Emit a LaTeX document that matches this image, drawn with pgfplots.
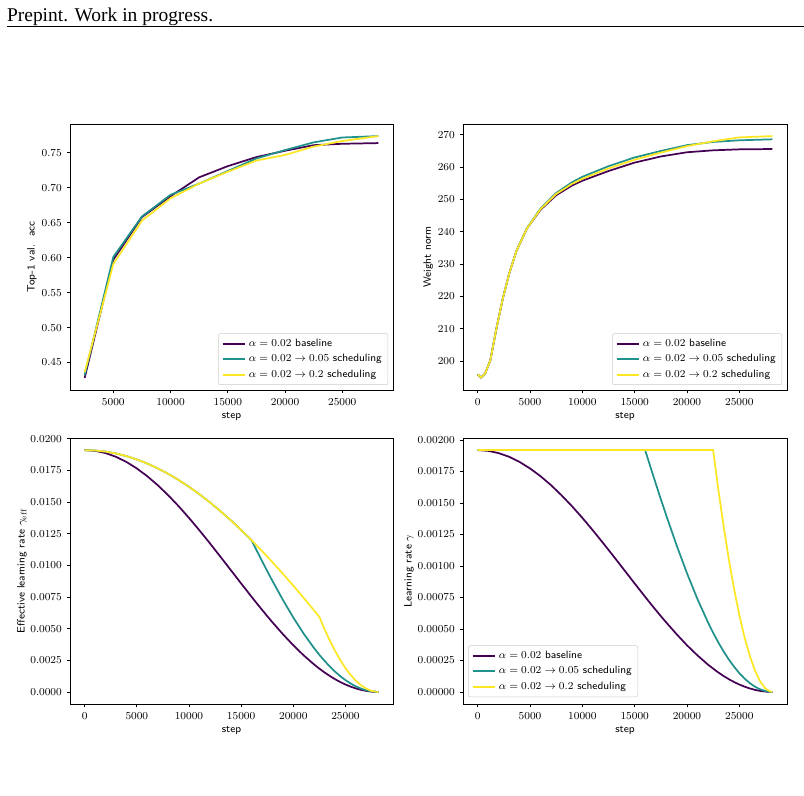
\documentclass[border=0pt]{standalone}
\usepackage{pgfplots}
\pgfplotsset{compat=1.18}
\usepackage{pgfplotstable}
\usepackage{fontspec}
\newfontfamily\headfont{Liberation Serif}
\definecolor{vpurple}{HTML}{440154}
\definecolor{vteal}{HTML}{21918C}
\definecolor{vyellow}{HTML}{FDE725}

\pgfplotstableread{
step P T Y
2500 0.428 0.432 0.436
5000 0.597 0.601 0.591
7500 0.658 0.659 0.653
10000 0.688 0.690 0.685
12500 0.715 0.706 0.706
15000 0.731 0.724 0.723
17500 0.744 0.742 0.739
20000 0.753 0.754 0.747
22500 0.761 0.765 0.759
25000 0.763 0.772 0.767
28150 0.764 0.774 0.774
}\acctable

\pgfplotstableread{
step P T Y
0 195.9 195.9 195.9
300 194.9 194.9 194.9
700 196.1 196.1 196.1
1200 200.2 200.2 200.2
1800 210.3 210.3 210.3
2400 219.4 219.4 219.4
3000 227.0 227.0 227.0
3700 234.1 234.1 234.1
4700 241.0 241.1 241.0
6000 246.8 247.2 247.0
7500 251.3 252.0 251.7
9000 254.3 255.3 254.8
10000 255.8 257.0 256.4
12500 258.8 260.3 259.6
15000 261.4 263.0 262.3
17500 263.3 265.0 264.5
20000 264.6 266.8 266.5
22500 265.2 267.8 268.0
25000 265.5 268.3 269.2
28150 265.6 268.6 269.6
}\normtable

\pgfplotstableread{
step P T Y
0 0.019100 0.019100 0.019100
1000 0.019041 0.019070 0.019070
2000 0.018863 0.018981 0.018981
3000 0.018570 0.018833 0.018833
4000 0.018164 0.018626 0.018626
5000 0.017651 0.018361 0.018361
6000 0.017038 0.018039 0.018039
7000 0.016331 0.017661 0.017661
8000 0.015540 0.017228 0.017228
9000 0.014674 0.016742 0.016742
10000 0.013745 0.016203 0.016203
11000 0.012763 0.015614 0.015614
12000 0.011742 0.014976 0.014976
13000 0.010693 0.014291 0.014291
14000 0.009630 0.013562 0.013562
15000 0.008566 0.012791 0.012791
16000 0.007514 0.011980 0.011980
16500 0.006997 0.011155 0.011560
17000 0.006488 0.010343 0.011131
17500 0.005988 0.009546 0.010694
18000 0.005499 0.008767 0.010249
19000 0.004561 0.007272 0.009334
20000 0.003685 0.005876 0.008390
21000 0.002882 0.004595 0.007420
22000 0.002163 0.003448 0.006427
22500 0.001836 0.002928 0.005922
23000 0.001534 0.002446 0.004948
23500 0.001257 0.002004 0.004055
24000 0.001006 0.001604 0.003244
24500 0.000781 0.001246 0.002520
25000 0.000584 0.000931 0.001884
25500 0.000415 0.000661 0.001337
26000 0.000274 0.000436 0.000882
26500 0.000161 0.000257 0.000521
27000 0.0000785 0.000125 0.000253
27500 0.0000251 0.0000400 0.0000809
28000 0.0000013 0.0000021 0.0000043
28150 0 0 0
}\efftable

\pgfplotstableread{
step P T Y
0 0.001920 0.00192 0.00192
1000 0.001914 0.00192 0.00192
2000 0.001896 0.00192 0.00192
3000 0.001867 0.00192 0.00192
4000 0.001826 0.00192 0.00192
5000 0.001774 0.00192 0.00192
6000 0.001713 0.00192 0.00192
7000 0.001642 0.00192 0.00192
8000 0.001562 0.00192 0.00192
9000 0.001475 0.00192 0.00192
10000 0.001382 0.00192 0.00192
11000 0.001283 0.00192 0.00192
12000 0.001180 0.00192 0.00192
13000 0.001075 0.00192 0.00192
14000 0.000968 0.00192 0.00192
15000 0.000861 0.00192 0.00192
16000 0.000755 0.00192 0.00192
16500 0.000703 0.001788 0.00192
17000 0.000652 0.001658 0.00192
17500 0.000602 0.001530 0.00192
18000 0.000553 0.001405 0.00192
19000 0.000459 0.001166 0.00192
20000 0.000370 0.000942 0.00192
21000 0.000290 0.000737 0.00192
22000 0.000217 0.000553 0.00192
22500 0.000185 0.000469 0.00192
23000 0.000154 0.000392 0.001604
23500 0.000126 0.000321 0.001315
24000 0.000101 0.000257 0.001052
24500 0.0000785 0.000200 0.000817
25000 0.0000587 0.000149 0.000611
25500 0.0000417 0.000106 0.000433
26000 0.0000275 0.0000699 0.000286
26500 0.0000162 0.0000413 0.000169
27000 0.0000079 0.0000201 0.0000821
27500 0.0000025 0.0000064 0.0000262
28000 0.0000001 0.0000003 0.0000014
28150 0 0 0
}\lrtable

\pgfplotsset{
  myax/.style={
    scale only axis,
    height=199.5pt,
    axis line style={line width=0.6pt},
    tick align=outside,
    tick pos=left,
    major tick length=2.6pt,
    every tick/.style={black, line width=0.6pt},
    tick label style={font=\fontsize{8.4}{10}\selectfont},
    label style={font=\sffamily\fontsize{8}{9.6}\selectfont},
    scaled ticks=false,
    /pgf/number format/1000 sep={},
    xtick={0,5000,10000,15000,20000,25000},
    legend style={font=\fontsize{8}{9.6}\selectfont, draw=black!20, rounded corners=1.5pt,
      fill=white, inner xsep=2.5pt, inner ysep=2pt,
      row sep=0.6pt, cells={anchor=west}},
    legend image code/.code={\draw[##1, line width=1.4pt] (0pt,0pt) -- (17pt,0pt);},
    every axis plot/.append style={line width=1.3pt},
    xlabel={step},
    xlabel style={at={(axis description cs:0.5,-0.098)}, anchor=center},
  },
}

\begin{document}
\begin{tikzpicture}
\path[use as bounding box] (0pt,0pt) rectangle (603pt,-597pt);
\node[anchor=base west, inner sep=0pt, font=\headfont\fontsize{14.6}{17}\selectfont] at (5.1pt,-16.1pt) {Prepint. Work in progress.};
\draw[line width=0.6pt] (5.1pt,-20.1pt) -- (603pt,-20.1pt);

% Top-left
\begin{axis}[myax, at={(52.5pt,-292.5pt)}, anchor=south west, width=242.25pt,
  xmin=1217.5, xmax=29432.5, ymin=0.4107, ymax=0.7913,
  ytick={0.45,0.50,0.55,0.60,0.65,0.70,0.75},
  yticklabel style={/pgf/number format/fixed, /pgf/number format/fixed zerofill, /pgf/number format/precision=2},
  ylabel={Top-1 val.\ \ acc},
  ylabel style={at={(axis description cs:-0.118,0.5)}, anchor=center},
  legend style={at={(0.985,0.019)}, anchor=south east}]
\addplot[vpurple] table[x=step,y=P]{\acctable};
\addplot[vteal] table[x=step,y=T]{\acctable};
\addplot[vyellow] table[x=step,y=Y]{\acctable};
\legend{$\alpha=0.02$ \textsf{baseline}, $\alpha=0.02\rightarrow0.05$ \textsf{scheduling}, $\alpha=0.02\rightarrow0.2$ \textsf{scheduling}}
\end{axis}

% Top-right
\begin{axis}[myax, at={(347.25pt,-292.5pt)}, anchor=south west, width=243pt,
  xmin=-1407.5, xmax=29557.5, ymin=191.06, ymax=273.34,
  ytick={200,210,220,230,240,250,260,270},
  ylabel={Weight norm},
  ylabel style={at={(axis description cs:-0.107,0.5)}, anchor=center},
  legend style={at={(0.985,0.019)}, anchor=south east}]
\addplot[vpurple] table[x=step,y=P]{\normtable};
\addplot[vteal] table[x=step,y=T]{\normtable};
\addplot[vyellow] table[x=step,y=Y]{\normtable};
\legend{$\alpha=0.02$ \textsf{baseline}, $\alpha=0.02\rightarrow0.05$ \textsf{scheduling}, $\alpha=0.02\rightarrow0.2$ \textsf{scheduling}}
\end{axis}

% Bottom-left
\begin{axis}[myax, at={(52.5pt,-528pt)}, anchor=south west, width=242.25pt,
  xmin=-1407.5, xmax=29557.5, ymin=-0.000955, ymax=0.020055,
  ytick={0,0.0025,0.005,0.0075,0.01,0.0125,0.015,0.0175,0.02},
  yticklabel style={/pgf/number format/fixed, /pgf/number format/fixed zerofill, /pgf/number format/precision=4},
  ylabel={Effective learning rate $\gamma_{\mathrm{eff}}$},
  ylabel style={at={(axis description cs:-0.149,0.5)}, anchor=center}]
\addplot[vpurple] table[x=step,y=P]{\efftable};
\addplot[vteal] table[x=step,y=T]{\efftable};
\addplot[vyellow] table[x=step,y=Y]{\efftable};
\end{axis}

% Bottom-right
\begin{axis}[myax, at={(347.25pt,-528pt)}, anchor=south west, width=243pt,
  xmin=-1407.5, xmax=29557.5, ymin=-0.000096, ymax=0.002016,
  ytick={0,0.00025,0.0005,0.00075,0.001,0.00125,0.0015,0.00175,0.002},
  yticklabel style={/pgf/number format/fixed, /pgf/number format/fixed zerofill, /pgf/number format/precision=5},
  ylabel={Learning rate $\gamma$},
  ylabel style={at={(axis description cs:-0.167,0.5)}, anchor=center},
  legend style={at={(0.0155,0.026)}, anchor=south west}]
\addplot[vpurple] table[x=step,y=P]{\lrtable};
\addplot[vteal] table[x=step,y=T]{\lrtable};
\addplot[vyellow] table[x=step,y=Y]{\lrtable};
\legend{$\alpha=0.02$ \textsf{baseline}, $\alpha=0.02\rightarrow0.05$ \textsf{scheduling}, $\alpha=0.02\rightarrow0.2$ \textsf{scheduling}}
\end{axis}
\end{tikzpicture}
\end{document}
